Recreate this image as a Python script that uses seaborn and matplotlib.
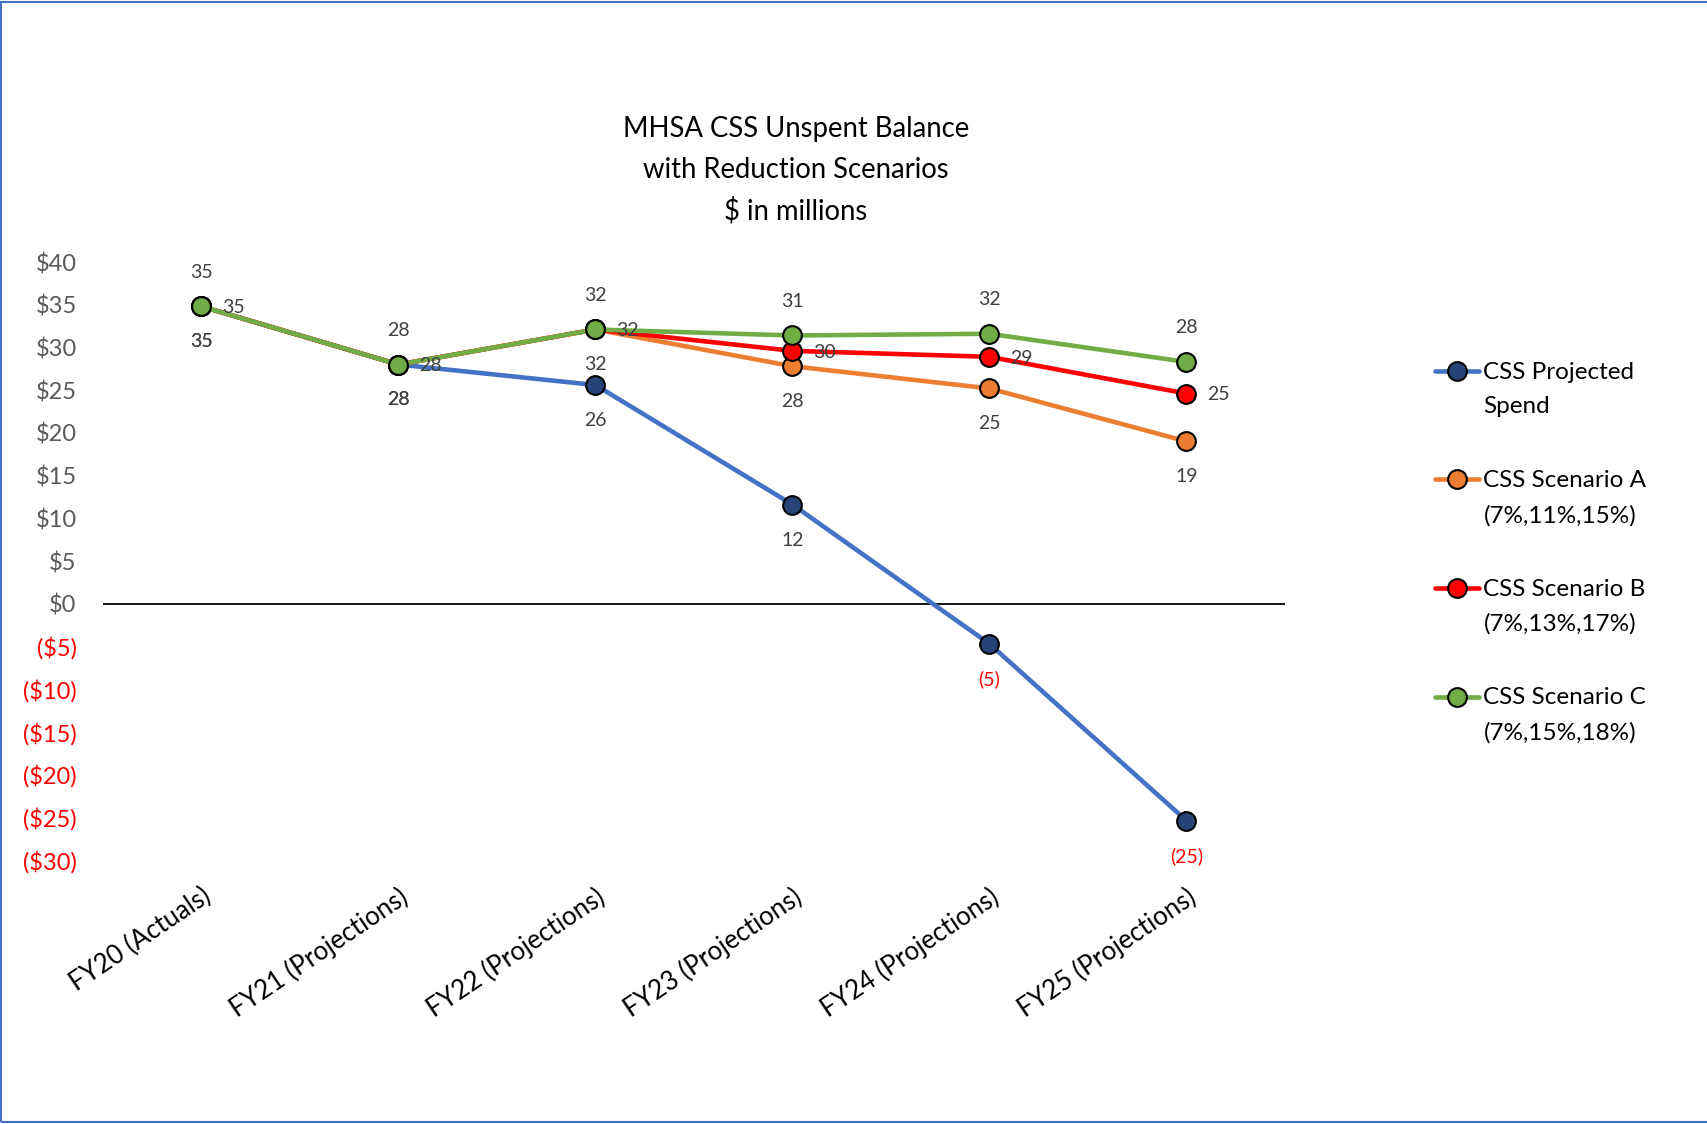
import matplotlib
matplotlib.use("Agg")
import matplotlib.pyplot as plt
from matplotlib.patches import Rectangle
from matplotlib.legend_handler import HandlerLine2D
import seaborn as sns
import pandas as pd

# ---- data ----
periods = ["FY20 (Actuals)", "FY21 (Projections)", "FY22 (Projections)",
           "FY23 (Projections)", "FY24 (Projections)", "FY25 (Projections)"]
projected_spend = [34.8, 28.0, 25.6, 11.6, -4.7, -25.4]
scenario_a = [34.8, 28.0, 32.1, 27.8, 25.2, 19.0]
scenario_b = [34.8, 28.0, 32.1, 29.6, 28.9, 24.6]
scenario_c = [34.8, 28.0, 32.1, 31.4, 31.6, 28.3]
series_names = ["CSS Projected\nSpend", "CSS Scenario A\n(7%,11%,15%)",
                "CSS Scenario B\n(7%,13%,17%)", "CSS Scenario C\n(7%,15%,18%)"]
yticks = list(range(-30, 45, 5))

line_colors = ["#4472C4", "#ED7D31", "#FF0000", "#70AD47"]
face_colors = ["#264478", "#ED7D31", "#FF0000", "#70AD47"]
# label placement per series: (dx, dy) in points, ha, va
label_pos = [(0, -25.5, "center", "center"), (0, -25.5, "center", "center"),
             (15, -1, "left", "center"), (0, 24.5, "center", "center")]

FONT = ["Lato", "DejaVu Sans"]

sns.set_theme(style="white")
plt.rcParams["font.family"] = FONT

fig = plt.figure(figsize=(17.08, 11.24), dpi=100)
ax = fig.add_axes([103 / 1708, 1 - 860 / 1124, (1285 - 103) / 1708, (860 - 262) / 1124])

all_series = [projected_spend, scenario_a, scenario_b, scenario_c]
for vals, name, lc, fc in zip(all_series, series_names, line_colors, face_colors):
    df = pd.DataFrame({"period": periods, "value": vals})
    sns.lineplot(data=df, x="period", y="value", ax=ax, color=lc, linewidth=3.3,
                 marker="o", markersize=13.5, markerfacecolor=fc,
                 markeredgecolor="black", markeredgewidth=1.5, label=name, sort=False)

# data labels
for vals, (dx, dy, ha, va) in zip(all_series, label_pos):
    for i, v in enumerate(vals):
        r = int(round(abs(v)))
        txt = f"({r})" if v < 0 else f"{r}"
        col = "#FF0000" if v < 0 else "#404040"
        ax.annotate(txt, (i, v), xytext=(dx, dy), textcoords="offset points",
                    ha=ha, va=va, fontsize=14, color=col)

ax.axhline(0, color="black", linewidth=1.3, zorder=0)
ax.set_xlim(-0.5, 5.5)
ax.set_ylim(-30, 40)
ax.set_yticks(yticks)
ax.set_yticklabels([f"(${abs(t)})" if t < 0 else f"${t}" for t in yticks])
for lab, t in zip(ax.get_yticklabels(), yticks):
    lab.set_color("#FF0000" if t < 0 else "#595959")
    lab.set_fontsize(17)
ax.tick_params(axis="y", length=0, pad=19)
ax.set_xticks(range(len(periods)))
ax.set_xticklabels(periods, rotation=34, ha="right", va="top", rotation_mode="anchor",
                   fontsize=18.5, color="black")
ax.tick_params(axis="x", length=0, pad=17)
ax.set_xlabel("")
ax.set_ylabel("")
for s in ax.spines.values():
    s.set_visible(False)
ax.grid(False)


class TopAlignedHandler(HandlerLine2D):
    def create_artists(self, legend, orig_handle, xdescent, ydescent, width, height,
                       fontsize, trans):
        arts = super().create_artists(legend, orig_handle, xdescent, ydescent, width,
                                      height, fontsize, trans)
        for a in arts:
            a.set_ydata([y + 13.5 for y in a.get_ydata()])
        return arts


handles, labels = ax.get_legend_handles_labels()
leg = ax.legend(handles, labels, loc="upper left", bbox_to_anchor=(1413 / 1708, 1 - 340 / 1124),
                bbox_transform=fig.transFigure, frameon=False, fontsize=17.5,
                handlelength=1.8, handletextpad=0.2, labelspacing=2.15,
                handler_map={h: TopAlignedHandler() for h in handles})
for t in leg.get_texts():
    t.set_linespacing(1.8)
    t.set_color("black")

for i, line in enumerate(["MHSA CSS Unspent Balance", "with Reduction Scenarios", "$ in millions"]):
    fig.text(796 / 1708, 1 - (129 + 41 * i) / 1124, line, ha="center", va="center",
             fontsize=19.8, color="black")

fig.patches.append(Rectangle((0.0006, 0.0015), 1.5, 0.9968, transform=fig.transFigure,
                             fill=False, edgecolor="#4472C4", linewidth=1.5))

fig.savefig("out.png", dpi=100)
